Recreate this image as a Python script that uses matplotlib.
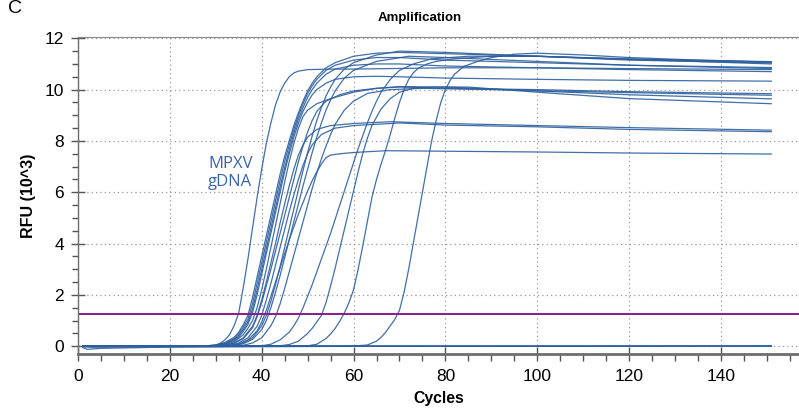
import matplotlib
matplotlib.use("Agg")
import matplotlib.pyplot as plt
from matplotlib.ticker import MultipleLocator

# ---------------- data ----------------
title = "Amplification"
x_label = "Cycles"
y_label = "RFU (10^3)"
threshold = 1.25
x_ticks = [0, 20, 40, 60, 80, 100, 120, 140]
y_ticks = [0, 2, 4, 6, 8, 10, 12]

L1_c = [1, 28, 30, 31, 32, 33, 34, 35, 36, 37, 38, 39, 40, 41, 42, 43, 44, 45, 46, 47, 48, 50, 55, 60, 80, 100, 120, 151]
L1_v = [0, 0.02, 0.05, 0.12, 0.25, 0.45, 0.8, 1.3, 2.3, 3.4, 4.6, 5.8, 6.9, 7.9, 8.7, 9.4, 9.9, 10.25, 10.5, 10.65, 10.72, 10.78, 10.8, 10.8, 10.85, 10.85, 10.82, 10.78]

B_c = [1, 28, 30, 32, 34, 35, 36, 37, 38, 39, 40, 41, 42, 43, 44, 45, 46, 47, 48, 49, 50, 51, 52, 54, 56, 60, 65, 70, 80, 100, 120, 151]
B1_v = [0, 0.02, 0.05, 0.15, 0.35, 0.55, 0.85, 1.2, 1.9, 2.7, 3.5, 4.3, 5.1, 5.9, 6.7, 7.4, 8.0, 8.6, 9.1, 9.55, 9.95, 10.25, 10.5, 10.85, 11.05, 11.3, 11.42, 11.45, 11.4, 11.3, 11.18, 11.07]
B2_v = [0, 0.01, 0.04, 0.12, 0.3, 0.48, 0.75, 1.05, 1.65, 2.45, 3.25, 4.05, 4.85, 5.65, 6.45, 7.2, 7.85, 8.45, 9.0, 9.45, 9.85, 10.15, 10.4, 10.75, 10.95, 11.15, 11.25, 11.25, 11.15, 11.05, 10.95, 10.86]
B3_v = [0, 0.01, 0.03, 0.1, 0.26, 0.42, 0.66, 0.95, 1.45, 2.2, 3.0, 3.8, 4.6, 5.4, 6.2, 6.95, 7.65, 8.3, 8.85, 9.3, 9.7, 10.0, 10.25, 10.6, 10.8, 10.95, 11.0, 11.0, 10.92, 10.85, 10.78, 10.70]
B4_v = [0, 0.01, 0.03, 0.09, 0.22, 0.36, 0.58, 0.85, 1.3, 2.0, 2.8, 3.6, 4.4, 5.2, 6.0, 6.8, 7.5, 8.15, 8.7, 9.15, 9.5, 9.8, 10.0, 10.25, 10.4, 10.5, 10.52, 10.5, 10.45, 10.4, 10.36, 10.33]

E_c = [1, 30, 32, 34, 36, 37, 38, 39, 40, 41, 42, 43, 44, 45, 46, 47, 48, 49, 50, 52, 55, 60, 65, 70, 80, 100, 120, 151]
E_v = [0, 0.02, 0.06, 0.18, 0.45, 0.7, 1.0, 1.5, 2.2, 3.0, 3.85, 4.7, 5.55, 6.4, 7.2, 7.9, 8.5, 8.95, 9.2, 9.45, 9.65, 9.9, 10.05, 10.1, 10.05, 10.0, 9.92, 9.84]

F_c = [1, 30, 32, 34, 36, 38, 39, 40, 41, 42, 43, 44, 45, 46, 47, 48, 49, 50, 51, 52, 54, 57, 60, 65, 70, 80, 100, 120, 151]
F_v = [0, 0.01, 0.04, 0.12, 0.3, 0.72, 1.15, 1.7, 2.35, 3.0, 3.7, 4.4, 5.1, 5.8, 6.5, 7.2, 7.8, 8.35, 8.8, 9.15, 9.55, 9.8, 9.95, 10.05, 10.12, 10.1, 9.95, 9.8, 9.64]

G_c = [1, 30, 32, 34, 36, 38, 39, 40, 41, 42, 43, 44, 45, 46, 47, 48, 49, 50, 52, 55, 60, 68, 80, 100, 120, 151]
G_v = [0, 0.01, 0.04, 0.13, 0.33, 0.78, 1.2, 1.8, 2.5, 3.25, 4.0, 4.8, 5.55, 6.25, 6.9, 7.45, 7.85, 8.15, 8.45, 8.6, 8.68, 8.75, 8.68, 8.6, 8.52, 8.42]

H_c = [1, 31, 33, 35, 37, 39, 40, 41, 42, 43, 44, 45, 46, 47, 48, 49, 50, 51, 53, 56, 60, 70, 80, 100, 120, 151]
H_v = [0, 0.01, 0.04, 0.13, 0.33, 0.78, 1.2, 1.8, 2.45, 3.15, 3.85, 4.55, 5.25, 5.9, 6.5, 7.05, 7.5, 7.85, 8.25, 8.5, 8.6, 8.7, 8.62, 8.55, 8.45, 8.36]

I_c = [1, 31, 33, 35, 37, 39, 40, 41, 42, 43, 44, 45, 46, 47, 48, 49, 50, 51, 52, 53, 54, 55, 57, 60, 67, 80, 100, 120, 151]
I_v = [0, 0.01, 0.03, 0.1, 0.25, 0.6, 0.95, 1.4, 1.95, 2.5, 3.05, 3.6, 4.15, 4.65, 5.15, 5.6, 6.05, 6.45, 6.8, 7.1, 7.35, 7.45, 7.5, 7.55, 7.62, 7.6, 7.57, 7.53, 7.49]

J_c = [1, 32, 34, 36, 38, 40, 41, 42, 43, 44, 45, 46, 47, 48, 49, 50, 51, 52, 53, 54, 55, 56, 58, 60, 65, 70, 80, 100, 120, 151]
J_v = [0, 0.01, 0.04, 0.13, 0.33, 0.8, 1.2, 1.75, 2.4, 3.1, 3.85, 4.6, 5.35, 6.1, 6.85, 7.55, 8.2, 8.8, 9.3, 9.75, 10.1, 10.4, 10.8, 11.05, 11.35, 11.5, 11.45, 11.3, 11.15, 11.04]

K_c = [1, 32, 34, 36, 38, 40, 41, 42, 43, 44, 45, 46, 47, 48, 49, 50, 51, 52, 53, 54, 55, 56, 58, 60, 65, 72, 80, 100, 120, 151]
K_v = [0, 0.01, 0.03, 0.1, 0.27, 0.65, 1.0, 1.5, 2.1, 2.75, 3.45, 4.15, 4.85, 5.55, 6.25, 6.9, 7.55, 8.15, 8.7, 9.2, 9.6, 9.95, 10.45, 10.75, 11.1, 11.3, 11.25, 11.1, 10.95, 10.82]

L_c = [1, 34, 36, 38, 40, 42, 43, 44, 45, 46, 47, 48, 49, 50, 51, 52, 53, 54, 55, 56, 58, 60, 63, 68, 75, 90, 110, 130, 151]
L_v = [0, 0.01, 0.04, 0.13, 0.33, 0.8, 1.15, 1.65, 2.25, 2.9, 3.55, 4.2, 4.85, 5.5, 6.15, 6.75, 7.3, 7.8, 8.25, 8.65, 9.2, 9.55, 9.85, 10.0, 10.05, 10.0, 9.92, 9.85, 9.78]

M_c = [1, 40, 42, 44, 46, 47, 48, 49, 50, 51, 52, 53, 54, 55, 56, 57, 58, 59, 60, 61, 62, 63, 64, 65, 66, 68, 70, 73, 77, 85, 100, 120, 151]
M_v = [0, 0.02, 0.08, 0.25, 0.55, 0.8, 1.1, 1.5, 1.95, 2.4, 2.9, 3.4, 3.9, 4.4, 4.95, 5.5, 6.05, 6.6, 7.15, 7.7, 8.2, 8.7, 9.15, 9.55, 9.9, 10.4, 10.75, 11.0, 11.2, 11.3, 11.3, 11.2, 11.09]

N_c = [1, 44, 46, 48, 50, 51, 52, 53, 54, 55, 56, 57, 58, 59, 60, 61, 62, 63, 64, 66, 68, 70, 73, 78, 85, 100, 120, 151]
N_v = [0, 0.02, 0.07, 0.2, 0.5, 0.7, 0.95, 1.2, 1.7, 2.35, 3.05, 3.8, 4.55, 5.3, 6.05, 6.8, 7.5, 8.1, 8.6, 9.25, 9.65, 9.9, 10.05, 10.1, 10.1, 9.9, 9.65, 9.45]

O_c = [1, 50, 52, 54, 55, 56, 57, 58, 59, 60, 61, 62, 63, 64, 65, 66, 67, 68, 69, 70, 71, 72, 73, 74, 76, 78, 82, 90, 100, 120, 151]
O_v = [0, 0.02, 0.08, 0.3, 0.48, 0.7, 0.98, 1.3, 1.7, 2.2, 3.0, 3.9, 4.85, 5.8, 6.5, 7.1, 7.65, 8.25, 8.9, 9.5, 10.0, 10.4, 10.65, 10.82, 11.0, 11.1, 11.2, 11.3, 11.3, 11.18, 11.0]

P_c = [1, 60, 63, 65, 66, 67, 68, 69, 70, 71, 72, 73, 74, 75, 76, 77, 78, 79, 80, 81, 82, 84, 87, 90, 95, 100, 110, 120, 135, 151]
P_v = [0, 0.01, 0.05, 0.2, 0.35, 0.55, 0.8, 1.05, 1.4, 2.1, 3.0, 4.0, 5.0, 6.0, 7.0, 8.0, 8.8, 9.5, 10.0, 10.35, 10.6, 10.9, 11.1, 11.25, 11.38, 11.42, 11.35, 11.25, 11.15, 11.07]

NEG1_c = [1, 2, 5, 20, 60, 100, 151]
NEG1_v = [-0.05, -0.12, -0.08, -0.03, 0.0, 0.0, 0.0]
NEG2_c = [1, 3, 40, 151]
NEG2_v = [-0.02, -0.04, 0.0, 0.02]
NEG3_c = [1, 151]
NEG3_v = [0.02, 0.01]

curves = [
    (L1_c, L1_v), (B_c, B1_v), (B_c, B2_v), (B_c, B3_v), (B_c, B4_v),
    (E_c, E_v), (F_c, F_v), (G_c, G_v), (H_c, H_v), (I_c, I_v),
    (J_c, J_v), (K_c, K_v), (L_c, L_v), (M_c, M_v), (N_c, N_v),
    (O_c, O_v), (P_c, P_v), (NEG1_c, NEG1_v), (NEG2_c, NEG2_v), (NEG3_c, NEG3_v),
]

# ---------------- drawing ----------------
plt.rcParams['font.family'] = ['Liberation Sans', 'DejaVu Sans']
fig = plt.figure(figsize=(7.99, 4.08), dpi=100)
ax = fig.add_axes([78/799, 1 - 354/408, 1 - 78/799, (354 - 37)/408])

line_col = '#2d5f9e'
for c, v in curves:
    ax.plot(c, v, color=line_col, lw=0.9, alpha=0.9, solid_capstyle='round')

ax.axhline(threshold, color='#8b1a8b', lw=1.4)

ax.set_xlim(0, 157)
ax.set_ylim(-0.3, 12.05)
ax.xaxis.set_minor_locator(MultipleLocator(5))
ax.yaxis.set_minor_locator(MultipleLocator(0.5))
ax.set_xticks(x_ticks)
ax.set_yticks(y_ticks)

ax.grid(True, which='major', color='#9a9a9a', lw=0.9, linestyle=(0, (1, 2.5)))
ax.set_axisbelow(True)

ax.spines['right'].set_visible(False)
ax.spines['bottom'].set_color('#6e6e6e')
ax.spines['bottom'].set_linewidth(2.0)
ax.spines['left'].set_color('#6e6e6e')
ax.spines['left'].set_linewidth(1.0)
ax.spines['top'].set_color('#8a8a8a')
ax.spines['top'].set_linewidth(0.8)

ax.tick_params(axis='x', which='major', direction='inout', length=10, width=1.0, color='#555555', labelsize=12.5, pad=6)
ax.tick_params(axis='x', which='minor', direction='out', length=5, width=1.0, color='#555555')
ax.tick_params(axis='y', which='major', direction='inout', length=10, width=1.0, color='#555555', labelsize=12.5, pad=5)
ax.tick_params(axis='y', which='minor', direction='out', length=4, width=1.0, color='#555555')

ax.set_xlabel(x_label, fontsize=11.3, fontweight='bold', labelpad=5)
ax.set_ylabel(y_label, fontsize=11.5, fontweight='bold', labelpad=6)

ax.text(28.3, 6.75, "MPXV\ngDNA", color='#3a64aa', fontsize=12, ha='left', va='center',
        family=['Open Sans', 'DejaVu Sans'], linespacing=1.2)

fig.text(420/799, 1 - 18/408, title, fontsize=9.5, fontweight='bold', ha='center', va='center')
fig.text(8/799, 1.0, "C", fontsize=14, ha='left', va='top')

fig.savefig('out.png', dpi=100)
